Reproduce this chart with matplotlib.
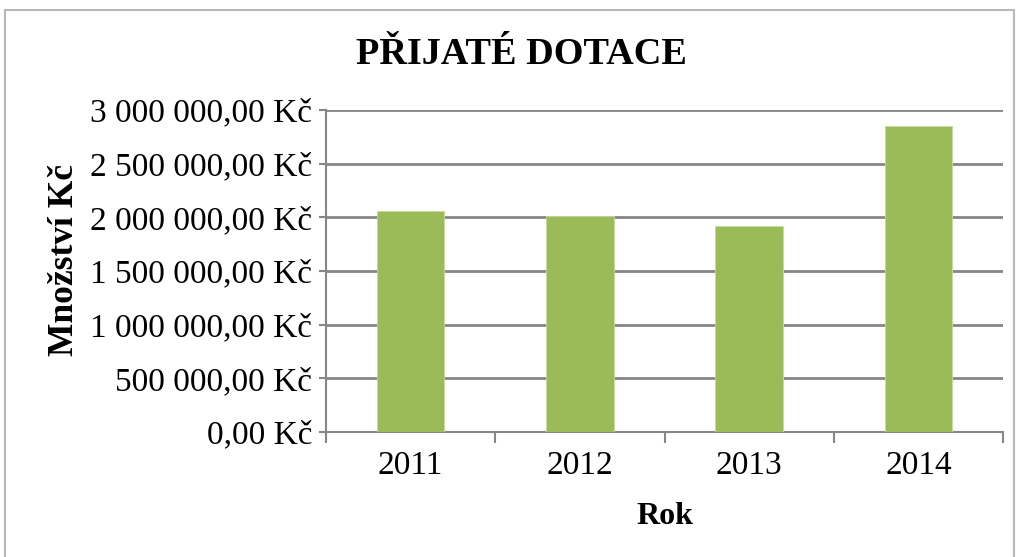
import matplotlib
matplotlib.use("Agg")
import matplotlib.pyplot as plt
from matplotlib.patches import Rectangle
from matplotlib.ticker import FixedLocator, FuncFormatter

years = ["2011", "2012", "2013", "2014"]
dotace = [2060000, 2010000, 1920000, 2850000]
y_ticks = [0, 500000, 1000000, 1500000, 2000000, 2500000, 3000000]

plt.rcParams['font.family'] = ['Liberation Serif', 'DejaVu Serif']

def kc(v, pos=None):
    s = f"{v:,.2f}".replace(",", " ").replace(".", ",")
    return s + " Kč"

fig = plt.figure(figsize=(10.2, 5.57), dpi=100)
ax = fig.add_axes([326/1020, 1 - 432/557, (1003-326)/1020, (432-110)/557])

## outer chart frame like excel
fig.patches.append(Rectangle((5/1020, -0.01), 1009/1020, 1 - 10/557 + 0.01,
                             transform=fig.transFigure, fill=False,
                             edgecolor="#b8b8b8", linewidth=1.5))

x = range(len(years))
ax.bar(x, dotace, width=0.4, color="#9BBB59", edgecolor="#c4dca0", linewidth=0.6, zorder=3)

ax.set_ylim(0, 3000000)
ax.set_xlim(-0.5, len(years) - 0.5)
ax.set_yticks(y_ticks)
ax.yaxis.set_major_formatter(FuncFormatter(kc))
ax.yaxis.grid(True, color="#868686", linewidth=2, zorder=0)

ax.xaxis.set_major_locator(FixedLocator([-0.5, 0.5, 1.5, 2.5, 3.5]))
ax.xaxis.set_major_formatter(FuncFormatter(lambda v, p: ""))
ax.xaxis.set_minor_locator(FixedLocator(list(x)))
ax.set_xticklabels(years, minor=True)
ax.tick_params(axis="x", which="major", length=8, width=1.5, color="#868686")
ax.tick_params(axis="x", which="minor", length=0, pad=13, labelsize=24)
ax.tick_params(axis="y", length=5, width=1.5, color="#868686", pad=5, labelsize=24)

for side in ["top", "right"]:
    ax.spines[side].set_visible(False)
for side in ["left", "bottom"]:
    ax.spines[side].set_color("#868686")
    ax.spines[side].set_linewidth(1.5)

fig.text(521/1020, 1 - 55/557, "PŘIJATÉ DOTACE", ha="center", va="center",
         fontsize=27.5, fontweight="bold")
fig.text(65/1020, 1 - 260/557, "Množství Kč", ha="center", va="center",
         rotation=90, fontsize=25.5, fontweight="bold")
fig.text(665/1020, 1 - 517/557, "Rok", ha="center", va="center",
         fontsize=23, fontweight="bold")

fig.savefig("out.png", dpi=100)
